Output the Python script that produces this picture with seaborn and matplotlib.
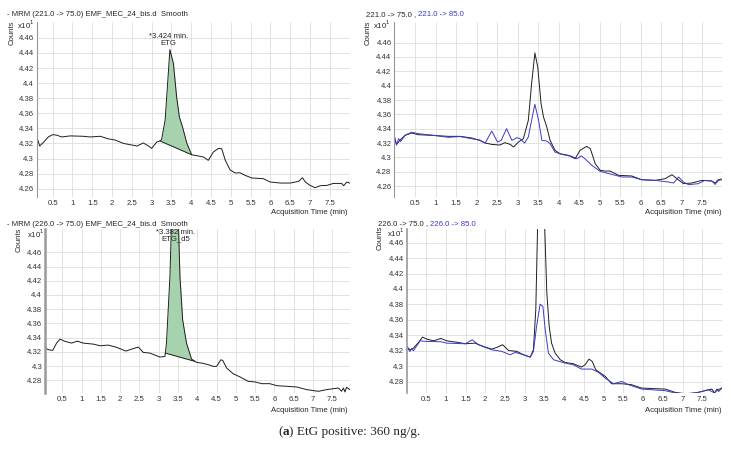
import numpy as np
import seaborn as sns
import matplotlib
matplotlib.use('Agg')
import matplotlib.pyplot as plt
from matplotlib.ticker import FuncFormatter

# ---- data (time in min, counts x10^1) ----
p1_time = [0.1, 0.17, 0.25, 0.31, 0.39, 0.5, 0.6, 0.73, 0.94, 1.27, 1.44, 1.7, 1.91, 2.08, 2.29, 2.63, 2.79,
           2.92, 3.0, 3.13, 3.21, 3.25, 3.34, 3.42, 3.46, 3.55, 3.63, 3.70, 3.78, 3.89, 4.01, 4.14, 4.31, 4.43,
           4.56, 4.69, 4.77, 4.86, 4.98, 5.11, 5.23, 5.36, 5.53, 5.82, 5.99, 6.25, 6.5, 6.71, 6.81, 6.88, 7.0,
           7.13, 7.26, 7.43, 7.59, 7.8, 7.85, 7.93, 8.0]
p1_counts = [4.3286, 4.3166, 4.3206, 4.324, 4.3286, 4.3317, 4.331, 4.3286, 4.330, 4.3295, 4.3286, 4.3295,
             4.326, 4.3245, 4.320, 4.3166, 4.3206, 4.3166, 4.3135, 4.322, 4.3233, 4.325, 4.351, 4.4126, 4.4445,
             4.426, 4.382, 4.355, 4.3418, 4.320, 4.305, 4.3038, 4.302, 4.2976, 4.3087, 4.3135, 4.313, 4.2976,
             4.285, 4.2808, 4.2812, 4.2777, 4.2742, 4.2733, 4.2689, 4.2675, 4.2675, 4.2697, 4.2746, 4.2689,
             4.2644, 4.2613, 4.264, 4.2644, 4.267, 4.267, 4.264, 4.2689, 4.2675]
p1_base = [3.21, 4.01]

p2_time = [0.0, 0.05, 0.13, 0.26, 0.42, 0.58, 0.91, 1.31, 1.6, 1.88, 2.08, 2.21, 2.37, 2.57, 2.69, 2.82, 2.9,
           3.02, 3.14, 3.26, 3.34, 3.42, 3.49, 3.57, 3.63, 3.71, 3.79, 3.91, 4.03, 4.24, 4.4, 4.52, 4.68, 4.77,
           4.89, 5.01, 5.13, 5.25, 5.46, 5.78, 6.02, 6.35, 6.59, 6.76, 6.88, 7.04, 7.24, 7.49, 7.73, 7.81, 7.89,
           7.97]
p2_q75 = [4.3284, 4.3181, 4.3237, 4.3307, 4.334, 4.3316, 4.3307, 4.3293, 4.3293, 4.327, 4.3237, 4.320, 4.3181,
          4.3172, 4.3205, 4.3181, 4.3144, 4.3214, 4.326, 4.3516, 4.4028, 4.4456, 4.426, 4.3749, 4.3563, 4.3423,
          4.3237, 4.3098, 4.3051, 4.3028, 4.2981, 4.3098, 4.3153, 4.3121, 4.2912, 4.2819, 4.2809, 4.2809,
          4.2749, 4.274, 4.2688, 4.2679, 4.2702, 4.2758, 4.2702, 4.2633, 4.2642, 4.2679, 4.267, 4.2642,
          4.2688, 4.2698]
p2_q85_time = [0.0, 0.05, 0.1, 0.15, 0.26, 0.42, 0.58, 0.91, 1.31, 1.6, 1.88, 2.08, 2.21, 2.37, 2.51, 2.6,
               2.73, 2.86, 2.98, 3.06, 3.17, 3.26, 3.34, 3.42, 3.51, 3.59, 3.71, 3.79, 3.91, 4.07, 4.32, 4.44,
               4.55, 4.64, 4.81, 5.01, 5.29, 5.54, 5.78, 6.02, 6.35, 6.67, 6.8, 6.92, 7.04, 7.16, 7.4, 7.56,
               7.73, 7.81, 7.89, 7.97]
p2_q85 = [4.3284, 4.317, 4.326, 4.322, 4.331, 4.335, 4.333, 4.331, 4.328, 4.329, 4.326, 4.324, 4.320, 4.3367,
          4.3214, 4.3237, 4.340, 4.3237, 4.3274, 4.326, 4.320, 4.3284, 4.3516, 4.374, 4.3516, 4.3237, 4.3228,
          4.3191, 4.3074, 4.3042, 4.3014, 4.298, 4.302, 4.298, 4.2888, 4.2805, 4.2763, 4.2726, 4.2726, 4.2688,
          4.2679, 4.2656, 4.2642, 4.2726, 4.2656, 4.2619, 4.2633, 4.2679, 4.267, 4.2623, 4.2679, 4.2688]

p3_time = [0.05, 0.14, 0.25, 0.35, 0.44, 0.57, 0.74, 0.89, 1.04, 1.3, 1.48, 1.69, 1.91, 2.15, 2.3, 2.47, 2.6,
           2.77, 3.03, 3.16, 3.2, 3.29, 3.33, 3.40, 3.46, 3.51, 3.55, 3.62, 3.72, 3.85, 3.98, 4.11, 4.29, 4.42,
           4.5, 4.61, 4.66, 4.76, 4.93, 5.11, 5.32, 5.5, 5.67, 5.88, 6.06, 6.32, 6.58, 6.84, 7.14, 7.35, 7.53,
           7.66, 7.74, 7.79, 7.83, 7.87, 7.96]
p3_counts = [4.3254, 4.3231, 4.3221, 4.3324, 4.338, 4.3348, 4.3324, 4.3352, 4.3324, 4.331, 4.3287, 4.3296,
             4.3264, 4.3212, 4.324, 4.3268, 4.3193, 4.3184, 4.3128, 4.3137, 4.3324, 4.4259, 4.50, 4.72, 4.60,
             4.50, 4.4259, 4.365, 4.3324, 4.310, 4.3053, 4.3044, 4.302, 4.2997, 4.2997, 4.309, 4.308, 4.2974,
             4.2894, 4.2848, 4.2787, 4.2778, 4.2754, 4.2754, 4.2726, 4.2717, 4.2707, 4.267, 4.2647, 4.267,
             4.2684, 4.2693, 4.2647, 4.2693, 4.2637, 4.2703, 4.267]
p3_base = [3.17, 3.94]

p4_time = [0.01, 0.09, 0.18, 0.31, 0.41, 0.52, 0.69, 0.88, 1.02, 1.32, 1.49, 1.74, 1.95, 2.16, 2.29, 2.44,
           2.59, 2.8, 2.97, 3.14, 3.22, 3.28, 3.33, 3.40, 3.50, 3.56, 3.62, 3.68, 3.77, 3.9, 4.02, 4.23, 4.44,
           4.53, 4.63, 4.71, 4.8, 5.04, 5.2, 5.46, 5.71, 5.96, 6.3, 6.56, 6.81, 7.06, 7.32, 7.57, 7.74, 7.81,
           7.87, 7.91, 7.99]
p4_q75 = [4.3255, 4.3212, 4.3234, 4.3307, 4.3376, 4.335, 4.3328, 4.3359, 4.3328, 4.3307, 4.329, 4.3298,
          4.3255, 4.3221, 4.3242, 4.3277, 4.3203, 4.3191, 4.3147, 4.3117, 4.3212, 4.3729, 4.49, 4.72, 4.49,
          4.3945, 4.3514, 4.3298, 4.3169, 4.3083, 4.3048, 4.3031, 4.2988, 4.3018, 4.3091, 4.3061, 4.2953,
          4.2867, 4.2772, 4.2772, 4.2759, 4.2716, 4.2708, 4.2703, 4.266, 4.2643, 4.2652, 4.2682, 4.2703,
          4.2652, 4.2703, 4.2673, 4.2716]
p4_q85_time = [0.01, 0.09, 0.14, 0.18, 0.35, 0.52, 0.88, 1.02, 1.49, 1.67, 1.83, 2.16, 2.42, 2.63, 2.76, 2.97,
               3.14, 3.22, 3.3, 3.39, 3.46, 3.52, 3.6, 3.73, 4.02, 4.23, 4.44, 4.7, 4.87, 5.04, 5.25, 5.46,
               5.63, 5.96, 6.56, 6.81, 7.06, 7.4, 7.65, 7.81, 7.89, 7.99]
p4_q85 = [4.3255, 4.319, 4.3225, 4.320, 4.3328, 4.332, 4.3316, 4.3298, 4.329, 4.3341, 4.3277, 4.3212, 4.3191,
          4.3147, 4.3178, 4.3147, 4.3117, 4.319, 4.3514, 4.3803, 4.3772, 4.347, 4.3169, 4.3083, 4.304, 4.3018,
          4.2962, 4.2962, 4.2919, 4.2845, 4.2772, 4.2802, 4.2759, 4.2703, 4.2682, 4.2652, 4.2638, 4.266,
          4.2695, 4.2652, 4.2695, 4.2716]

titles = ['- MRM (221.0 -> 75.0) EMF_MEC_24_bis.d  Smooth', '221.0 -> 75.0 , ', '221.0 -> 85.0',
          '- MRM (226.0 -> 75.0) EMF_MEC_24_bis.d  Smooth', '226.0 -> 75.0 , ', '226.0 -> 85.0']
peak_labels = ['*3.424 min.\nETG', '*3.382 min.\nETG_d5']
x_ticks = [0.5, 1, 1.5, 2, 2.5, 3, 3.5, 4, 4.5, 5, 5.5, 6, 6.5, 7, 7.5]
y_ticks_top = [4.26, 4.28, 4.3, 4.32, 4.34, 4.36, 4.38, 4.4, 4.42, 4.44, 4.46]
y_ticks_bottom = [4.28, 4.3, 4.32, 4.34, 4.36, 4.38, 4.4, 4.42, 4.44, 4.46]

sns.set_theme(style='whitegrid')
plt.rcParams['font.family'] = ['Liberation Sans', 'DejaVu Sans']

BLACK = '#1e1e1e'
BLUE = '#3a3acc'
GREEN = '#a6d3ad'
FS = 5.6

fig = plt.figure(figsize=(7.31, 4.49), dpi=100)
W, H = 731.0, 449.0


def make_ax(l, r, t, b, xlim, ylim, yticks, spine_w):
    ax = fig.add_axes([l / W, 1 - b / H, (r - l) / W, (b - t) / H])
    ax.set_xlim(*xlim)
    ax.set_ylim(*ylim)
    ax.set_xticks(x_ticks)
    ax.set_yticks(yticks)
    fmt = FuncFormatter(lambda v, p: '%g' % round(v, 3))
    ax.xaxis.set_major_formatter(fmt)
    ax.yaxis.set_major_formatter(fmt)
    ax.tick_params(labelsize=FS, length=0, pad=2, colors='#333333')
    ax.grid(True, color='#dddddd', lw=0.6)
    for s in ['top', 'right', 'bottom']:
        ax.spines[s].set_visible(False)
    ax.spines['left'].set_color('#999999')
    ax.spines['left'].set_linewidth(spine_w)
    return ax


def trace(ax, t, v, color):
    sns.lineplot(x=t, y=v, ax=ax, color=color, lw=0.7, estimator=None, sort=False)
    ax.set_xlabel('')
    ax.set_ylabel('')


def peak_fill(ax, t, v, base):
    t = np.array(t)
    v = np.array(v)
    b0 = np.interp(base[0], t, v)
    b1 = np.interp(base[1], t, v)
    m = (t >= base[0]) & (t <= base[1])
    tt = np.concatenate([[base[0]], t[m], [base[1]]])
    vv = np.concatenate([[b0], v[m], [b1]])
    bl = b0 + (b1 - b0) * (tt - base[0]) / (base[1] - base[0])
    ax.fill_between(tt, bl, vv, color=GREEN, lw=0, zorder=1.5)
    ax.plot(base, [b0, b1], color=BLACK, lw=0.7)


def labels(ax_x, ax_y, cnt_x, cnt_y, xl_x, xl_y):
    fig.text(cnt_x / W, 1 - cnt_y / H, 'Counts', rotation=90, fontsize=FS, ha='center', va='center')
    fig.text(ax_x / W, 1 - ax_y / H, r'x10$^{1}$', fontsize=FS, ha='left', va='center')
    fig.text(xl_x / W, 1 - xl_y / H, 'Acquisition Time (min)', fontsize=FS, ha='right', va='center')


# top-left
ax1 = make_ax(36.7, 350, 22, 197, (0.096, 8.01), (4.249, 4.481), y_ticks_top, 0.8)
peak_fill(ax1, p1_time, p1_counts, p1_base)
trace(ax1, p1_time, p1_counts, BLACK)
ax1.text(3.42, 4.4475, peak_labels[0], fontsize=FS, ha='center', va='bottom', linespacing=1.0)
fig.text(7 / W, 1 - 14 / H, titles[0], fontsize=FS, ha='left', va='center')
labels(17, 25, 12, 33, 348, 212)

# top-right
ax2 = make_ax(394.3, 721.7, 22, 197, (-0.004, 7.97), (4.2447, 4.4888), y_ticks_top, 0.8)
trace(ax2, p2_time, p2_q75, BLACK)
trace(ax2, p2_q85_time, p2_q85, BLUE)
t2a = fig.text(366 / W, 1 - 15 / H, titles[1], fontsize=FS, ha='left', va='center')
ax2.annotate(titles[2], xy=(1, 0), xycoords=t2a, va='bottom', ha='left', fontsize=FS, color=BLUE)
labels(373, 25, 368, 33, 722, 212)

# bottom-left
ax3 = make_ax(45, 350, 229, 393, (0.05, 7.96), (4.2623, 4.4927), y_ticks_bottom, 1.8)
peak_fill(ax3, p3_time, p3_counts, p3_base)
trace(ax3, p3_time, p3_counts, BLACK)
ax3.text(3.43, 4.4735, peak_labels[1], fontsize=FS, ha='center', va='bottom', linespacing=1.0)
fig.text(7 / W, 1 - 224 / H, titles[3], fontsize=FS, ha='left', va='center')
labels(27, 234, 19, 240, 348, 410)

# bottom-right
ax4 = make_ax(406.7, 721.7, 229, 393, (0.01, 7.99), (4.2652, 4.4777), y_ticks_bottom, 1.2)
trace(ax4, p4_time, p4_q75, BLACK)
trace(ax4, p4_q85_time, p4_q85, BLUE)
t4a = fig.text(378 / W, 1 - 224 / H, titles[4], fontsize=FS, ha='left', va='center')
ax4.annotate(titles[5], xy=(1, 0), xycoords=t4a, va='bottom', ha='left', fontsize=FS, color=BLUE)
labels(387, 233, 380, 238, 722, 410)

# caption
serif = ['Liberation Serif', 'DejaVu Serif']
c1 = fig.text(278 / W, 1 - 432 / H, '(', fontsize=9.5, family=serif, ha='left', va='center')
a = ax1.annotate('a', xy=(1, 0), xycoords=c1, va='bottom', ha='left', fontsize=9.5, family=serif,
                 fontweight='bold', annotation_clip=False)
b = ax1.annotate(') EtG positive: 360 ng/g.', xy=(1, 0), xycoords=a, va='bottom', ha='left',
                 fontsize=9.5, family=serif, annotation_clip=False)

fig.savefig('out.png', dpi=100)
